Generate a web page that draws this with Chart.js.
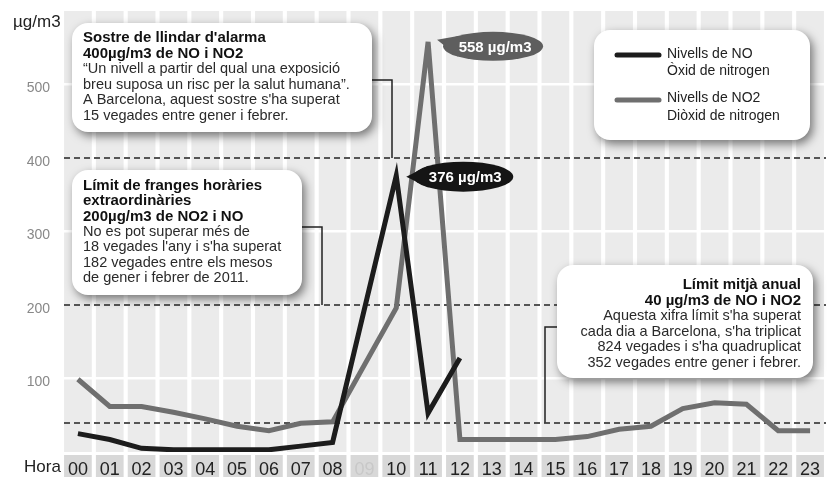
<!DOCTYPE html>
<html><head><meta charset="utf-8">
<script src="https://cdn.jsdelivr.net/npm/chart.js@4"></script>
<style>html,body{margin:0;padding:0;background:#fff}</style>
</head><body>
<canvas id="c" width="837" height="477"></canvas>
<script>
// ---- data ----
const hours = ['00','01','02','03','04','05','06','07','08','09','10','11','12','13','14','15','16','17','18','19','20','21','22','23'];
const noValues  = [25,17,5,3,3,3,3,8,13,null,376,53,128,null,null,null,null,null,null,null,null,null,null,null];
const no2Values = [99,62,62,54,45,35,29,39,41,null,196,558,17,17,17,17,21,31,35,59,67,65,29,29];
const missingHours = ['09'];
const yTickValues = [100,200,300,400,500];
const thresholdValues = [40,200,400];
const seriesNames = ['Nivells de NO','Nivells de NO2'];
const seriesDescriptions = ['Òxid de nitrogen','Diòxid de nitrogen'];
const yUnit = 'µg/m3';
const xTitle = 'Hora';
const yMin = 0, yMax = 600;

const noteAlarm = {bold:["Sostre de llindar d'alarma","400µg/m3 de NO i NO2"],
  text:["“Un nivell a partir del qual una exposició","breu suposa un risc per la salut humana”.","A Barcelona, aquest sostre s'ha superat","15 vegades entre gener i febrer."]};
const noteHourly = {bold:["Límit de franges horàries","extraordinàries","200µg/m3 de NO2 i NO"],
  text:["No es pot superar més de","18 vegades l'any i s'ha superat","182 vegades entre els mesos","de gener i febrer de 2011."]};
const noteAnnual = {bold:["Límit mitjà anual","40 µg/m3 de NO i NO2"],
  text:["Aquesta xifra límit s'ha superat","cada dia a Barcelona, s'ha triplicat","824 vegades i s'ha quadruplicat","352 vegades entre gener i febrer."]};

// ---- styles ----
const FF = '"Liberation Sans", Arial, sans-serif';
const seriesColors = ['#1c1c1c','#6f6f6f'];
const gridLineValues = yTickValues.filter(v => !thresholdValues.includes(v));

function roundBox(ctx,x,y,w,h,r){
  ctx.save();
  ctx.shadowColor='rgba(0,0,0,0.5)'; ctx.shadowBlur=10; ctx.shadowOffsetX=3; ctx.shadowOffsetY=4;
  ctx.fillStyle='#fff'; ctx.beginPath(); ctx.roundRect(x,y,w,h,r); ctx.fill();
  ctx.restore();
}
function noteText(ctx,note,x,y,lh,align){
  ctx.save(); ctx.textBaseline='middle'; ctx.textAlign=align;
  let yy=y;
  ctx.fillStyle='#111'; ctx.font='bold 15px '+FF;
  note.bold.forEach(s=>{ctx.fillText(s,x,yy); yy+=lh;});
  ctx.fillStyle='#2a2a2a'; ctx.font='14.5px '+FF;
  note.text.forEach(s=>{ctx.fillText(s,x,yy); yy+=lh;});
  ctx.restore();
}
function connector(ctx,pts){
  ctx.save(); ctx.strokeStyle='#222'; ctx.lineWidth=1.5; ctx.beginPath();
  pts.forEach((p,i)=> i?ctx.lineTo(p[0],p[1]):ctx.moveTo(p[0],p[1])); ctx.stroke(); ctx.restore();
}
function pill(ctx,tipX,tipY,cx,cy,rx,ry,color,text){
  ctx.save(); ctx.fillStyle=color;
  ctx.beginPath(); ctx.ellipse(cx,cy,rx,ry,0,0,Math.PI*2); ctx.fill();
  ctx.beginPath(); ctx.moveTo(tipX,tipY); ctx.lineTo(cx-rx*0.7,cy-ry*0.72); ctx.lineTo(cx-rx*0.7,cy+ry*0.72); ctx.closePath(); ctx.fill();
  ctx.fillStyle='#fff'; ctx.font='bold 15px '+FF; ctx.textAlign='center'; ctx.textBaseline='middle';
  ctx.fillText(text,cx+2,cy+1);
  ctx.restore();
}

const backdrop = {id:'backdrop', beforeDraw(chart){
  const {ctx, chartArea:ca, scales:{x}} = chart;
  ctx.save(); ctx.fillStyle='#fff'; ctx.fillRect(0,0,chart.width,chart.height);
  const band = x.getPixelForValue(1)-x.getPixelForValue(0);
  const w = band*0.87;
  hours.forEach((h,i)=>{
    const cx=x.getPixelForValue(i);
    ctx.fillStyle='#ebebeb'; ctx.fillRect(cx-w/2, ca.top, w, ca.bottom-ca.top);
    ctx.fillStyle='#d8d8d8'; ctx.fillRect(cx-w/2, ca.bottom+3, w, chart.height-ca.bottom-3);
  });
  ctx.fillStyle='#222'; ctx.textBaseline='middle'; ctx.textAlign='left';
  ctx.font='17px '+FF; ctx.fillText(xTitle, 24, 467);
  ctx.font='17px '+FF; ctx.fillText(yUnit, 13, 22);
  ctx.restore();
}};

const thresholds = {id:'thresholds', beforeDatasetsDraw(chart){
  const {ctx, chartArea:ca, scales:{y}} = chart;
  ctx.save(); ctx.strokeStyle='#555'; ctx.lineWidth=2; ctx.setLineDash([6,4]);
  thresholdValues.forEach(v=>{ const py=Math.round(y.getPixelForValue(v));
    ctx.beginPath(); ctx.moveTo(ca.left+2,py); ctx.lineTo(ca.right,py); ctx.stroke(); });
  ctx.restore();
}};

const notes = {id:'notes', afterDraw(chart){
  const {ctx, scales:{x,y}} = chart;
  connector(ctx,[[360,80],[392,80],[392,y.getPixelForValue(thresholdValues[2])]]);
  connector(ctx,[[290,227],[322,227],[322,y.getPixelForValue(thresholdValues[1])]]);
  connector(ctx,[[570,327],[545,327],[545,y.getPixelForValue(thresholdValues[0])]]);
  roundBox(ctx,72,23,300,109,16); noteText(ctx,noteAlarm,83,38,15.5,'left');
  roundBox(ctx,72,170,230,125,16); noteText(ctx,noteHourly,83,186,15.3,'left');
  roundBox(ctx,557,265,256,113,16); noteText(ctx,noteAnnual,801,285,15.6,'right');
  roundBox(ctx,594,30,216,110,16);
  const rows=[[54,71],[98,116]];
  seriesNames.forEach((n,i)=>{
    const [y1,y2]=rows[i], ly=(i===0?55:100);
    ctx.save(); ctx.strokeStyle=seriesColors[i]; ctx.lineWidth=5; ctx.lineCap='round';
    ctx.beginPath(); ctx.moveTo(617,ly); ctx.lineTo(659,ly); ctx.stroke();
    ctx.fillStyle='#222'; ctx.font='14px '+FF; ctx.textBaseline='middle'; ctx.textAlign='left';
    ctx.fillText(n,667,y1); ctx.fillText(seriesDescriptions[i],667,y2);
    ctx.restore();
  });
  const iNo2 = no2Values.indexOf(Math.max(...no2Values.filter(v=>v!==null)));
  const iNo = noValues.indexOf(Math.max(...noValues.filter(v=>v!==null)));
  const p2x=x.getPixelForValue(iNo2), p2y=y.getPixelForValue(no2Values[iNo2]);
  const p1x=x.getPixelForValue(iNo), p1y=y.getPixelForValue(noValues[iNo]);
  pill(ctx,p2x+9,p2y-2,p2x+65,p2y+4.5,50,14.5,'#5e5e5e',no2Values[iNo2]+' µg/m3');
  pill(ctx,p1x+10,p1y+1,p1x+67,p1y+1,50,15,'#151515',noValues[iNo]+' µg/m3');
}};

new Chart(document.getElementById('c'), {
  type:'line',
  data:{labels:hours, datasets:[
    {label:seriesNames[0], data:noValues, borderColor:seriesColors[0], borderWidth:5, pointRadius:0, spanGaps:true, tension:0, borderJoinStyle:'miter', borderCapStyle:'butt', fill:false},
    {label:seriesNames[1], data:no2Values, borderColor:seriesColors[1], borderWidth:5, pointRadius:0, spanGaps:true, tension:0, borderJoinStyle:'miter', borderCapStyle:'butt', fill:false}
  ]},
  options:{
    responsive:false, animation:false, devicePixelRatio:1,
    layout:{padding:{top:11,right:11,bottom:0,left:0}},
    plugins:{legend:{display:false}, tooltip:{enabled:false}},
    scales:{
      x:{ offset:true, grid:{display:false}, border:{display:false},
          ticks:{autoSkip:false, maxRotation:0, minRotation:0, padding:-1, font:{family:FF,size:18},
                 color:(c)=> missingHours.includes(hours[c.index]) ? '#c8c8c8' : '#222'},
          afterFit:(s)=>{s.height=25; s.paddingLeft=0; s.paddingRight=0;} },
      y:{ min:yMin, max:yMax,
          afterBuildTicks:(s)=>{ s.ticks=[yMin,...yTickValues,yMax].map(v=>({value:v})); },
          ticks:{callback:(v)=> yTickValues.includes(v) ? String(v) : '', padding:12, labelOffset:4,
                 font:{family:FF,size:14}, color:'#888'},
          grid:{color:(c)=> gridLineValues.includes(c.tick.value) ? '#ffffff' : 'rgba(0,0,0,0)', lineWidth:2.5, drawTicks:false},
          border:{display:false},
          afterFit:(s)=>{s.width=62; s.paddingTop=0; s.paddingBottom=0;} }
    }
  },
  plugins:[backdrop, thresholds, notes]
});
</script>
</body></html>
